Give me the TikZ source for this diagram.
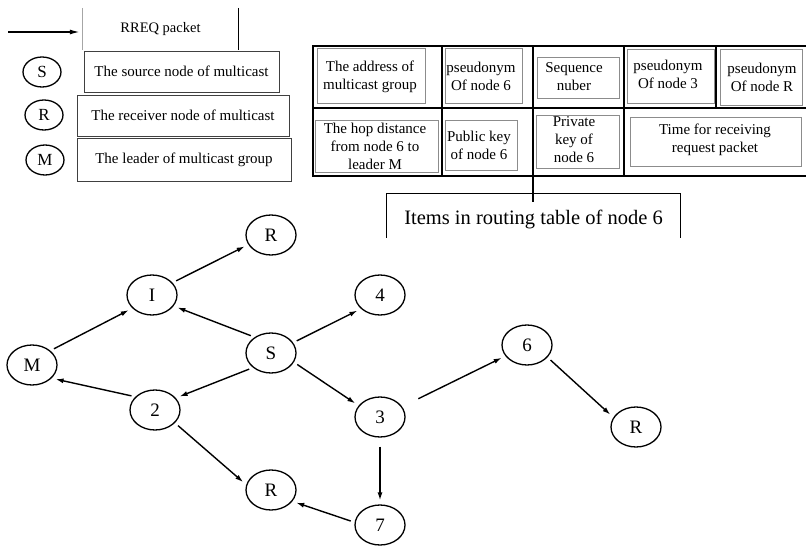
\documentclass[tikz,border=0pt]{standalone}
\usepackage{fontspec}
\setmainfont{Liberation Serif}
\usetikzlibrary{shapes.geometric,arrows.meta}
\begin{document}
\begin{tikzpicture}[x=1pt,y=-1pt,
  gnode/.style={ellipse,draw,line width=1.3pt,minimum width=50pt,minimum height=40pt,inner sep=0pt,font=\fontsize{19}{22}\selectfont},
  lnode/.style={ellipse,draw,line width=1.3pt,minimum width=38pt,minimum height=30pt,inner sep=0pt,font=\fontsize{17}{20}\selectfont},
  lbox/.style={draw=black!75,line width=0.8pt,rectangle,inner sep=0pt,font=\fontsize{15}{18}\selectfont},
  cell/.style={align=center,inner sep=0pt,font=\fontsize{15}{18}\selectfont},
  ibox/.style={draw=black!45,line width=0.6pt},
  tline/.style={line width=1.8pt},
  arr/.style={line width=1.4pt,-{Latex[length=8pt,width=5pt]},shorten >=4pt,shorten <=4pt},
  link/.style={line width=1.3pt}
]
\useasboundingbox (0,0) rectangle (806,556);

% ---------- legend ----------
\coordinate (arrstart) at (8,32);
\node[inner sep=0pt,minimum width=155pt,minimum height=42pt,font=\fontsize{14.5}{17}\selectfont] (rreq) at (160.5,29) {RREQ packet};
\draw[black!35,line width=0.8pt] (rreq.north west) -- (rreq.south west);
\draw[line width=0.9pt] (rreq.north east) -- (rreq.south east);
\draw[line width=1.4pt,-{Latex[length=10pt,width=5pt]},shorten >=3pt] (arrstart) -- (arrstart -| rreq.west);

\node[lnode] (lS) at (42,72) {S};
\node[lnode] (lR) at (44,115) {R};
\node[lnode] (lM) at (45,160) {M};
\node[lbox,minimum width=195pt,minimum height=41pt] (bS) at (181.5,71.5) {The source node of multicast};
\node[lbox,minimum width=212pt,minimum height=41pt] (bR) at (183,115.5) {The receiver node of multicast};
\node[lbox,minimum width=214pt,minimum height=43pt] (bM) at (184,159.5) {The leader of multicast group};

% ---------- table ----------
\draw[ibox] (317,48) rectangle (425,103);
\draw[ibox] (445,48) rectangle (522,103);
\draw[ibox] (537,57) rectangle (619,98);
\draw[ibox] (627,49) rectangle (714,103);
\draw[ibox] (720,49) rectangle (802,105);
\draw[ibox] (315,120) rectangle (438,172);
\draw[ibox] (445,120) rectangle (517,170);
\draw[ibox] (536,115) rectangle (619,168);
\draw[ibox] (630,117) rectangle (801,166);

\draw[tline] (806,46) -- (313,46) -- (313,176) -- (806,176);
\draw[tline] (313,108) -- (806,108);
\draw[tline] (442,46) -- (442,176);
\draw[tline] (533,46) -- (533,176);
\draw[tline] (624,46) -- (624,176);
\draw[tline] (716,46) -- (716,108);
\coordinate (tabbot) at (533,176);

\node[cell] (c1) at (370,77) {The address of\\multicast group};
\node[cell] (c2) at (481,76) {pseudonym\\Of node 6};
\node[cell] (c3) at (574,77) {Sequence\\nuber};
\node[cell] (c4) at (668,74) {pseudonym\\Of node 3};
\node[cell] (c5) at (762,77) {pseudonym\\Of node R};
\node[cell] (c6) at (375,146) {The hop distance\\from node 6 to\\leader M};
\node[cell] (c7) at (479,145) {Public key\\of node 6};
\node[cell] (c8) at (574,140) {Private\\key of\\node 6};
\node[cell] (c9) at (715,140) {Time for receiving\\request packet};

% ---------- items label ----------
\node[inner sep=0pt,minimum width=293pt,minimum height=34pt,font=\fontsize{20.5}{24}\selectfont] (items) at (533.5,219.5) {Items in routing table of node 6};
\draw[line width=0.9pt] ([yshift=-1pt]items.south west) -- ([yshift=9pt]items.north west) -- ([yshift=9pt]items.north east) -- ([yshift=-1pt]items.south east);

% ---------- graph ----------
\node[gnode] (Rt) at (271,235) {R};
\node[gnode] (I) at (152,295) {I};
\node[gnode] (n4) at (380,295) {4};
\node[gnode] (M) at (32,365) {M};
\node[gnode] (S) at (271,353) {S};
\node[gnode] (n2) at (155,410) {2};
\node[gnode] (n3) at (380,417) {3};
\node[gnode] (Rb) at (271,490) {R};
\node[gnode] (n7) at (380,525) {7};
\node[gnode] (n6) at (527,345) {6};
\node[gnode] (Rr) at (636,427) {R};

\draw[link] (tabbot) -- (items.north -| tabbot);
\draw[link] (items.south -| tabbot) -- (items.south -| tabbot |- n6.north);

\draw[arr] (M.38) -- (I.214);
\draw[arr] (I.31) -- (Rt.203);
\draw[arr] (S.136) -- (I.333);
\draw[arr] (S.25) -- (n4.216);
\draw[arr] (S.219) -- (n2.30);
\draw[arr] (S.338) -- (n3.152);
\draw[arr] (n2.146) -- (M.326);
\draw[arr] (n2.327) -- (Rb.168);
\draw[arr,shorten <=9pt] (n3.south) -- (n7.north);
\draw[arr] (n7.174) -- (Rb.332);
\draw[arr,shorten <=18pt] (n3.25) -- (n6.207);
\draw[arr] (n6.329) -- (Rr.157);
\end{tikzpicture}
\end{document}
